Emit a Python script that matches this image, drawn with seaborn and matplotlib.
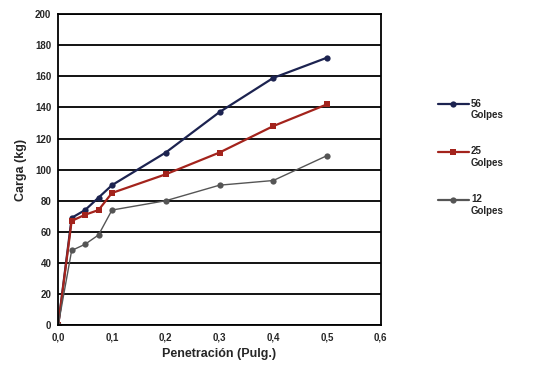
import numpy as np
import pandas as pd
import seaborn as sns
import matplotlib.pyplot as plt
from matplotlib.ticker import FuncFormatter
from matplotlib.lines import Line2D
from matplotlib.legend_handler import HandlerLine2D

# penetration values (inches)
penetracion = [0.0, 0.025, 0.05, 0.075, 0.1, 0.2, 0.3, 0.4, 0.5]

# load (kg) for each compaction energy
carga_56 = [0, 69, 74, 82, 90, 111, 137, 159, 172]
carga_25 = [0, 67, 71, 74, 85, 97, 111, 128, 142]
carga_12 = [0, 48, 52, 58, 74, 80, 90, 93, 109]

series_names = ["56\nGolpes", "25\nGolpes", "12\nGolpes"]
series_colors = ["#1c2350", "#a3231c", "#555555"]
series_markers = ["o", "s", "o"]

df = pd.DataFrame({
    "Penetracion": penetracion * 3,
    "Carga": carga_56 + carga_25 + carga_12,
    "Serie": [series_names[0]] * 9 + [series_names[1]] * 9 + [series_names[2]] * 9,
})


# legend handle raised to the first text line (the number)
class RaisedHandler(HandlerLine2D):
    def create_artists(self, legend, orig_handle, xdescent, ydescent,
                       width, height, fontsize, trans):
        arts = super().create_artists(legend, orig_handle, xdescent, ydescent,
                                      width, height, fontsize, trans)
        for a in arts:
            a.set_ydata(np.asarray(a.get_ydata()) + 0.6 * fontsize)
        return arts


sns.set_style("white")
plt.rcParams["font.family"] = ["Liberation Sans", "DejaVu Sans"]

fig, ax = plt.subplots(figsize=(5.44, 3.72), dpi=100)
fig.subplots_adjust(left=0.107, right=0.70, top=0.962, bottom=0.126)

sns.lineplot(
    data=df, x="Penetracion", y="Carga", hue="Serie", style="Serie",
    palette=dict(zip(series_names, series_colors)),
    markers=dict(zip(series_names, series_markers)),
    dashes=False, markersize=4.5, linewidth=1.6, markeredgewidth=0,
    ax=ax,
)
# thinner line for the 12 golpes series
ax.lines[2].set_linewidth(1.0)

ax.set_xlim(0, 0.6)
ax.set_ylim(0, 200)
ax.set_xticks(np.arange(0, 0.61, 0.1))
ax.set_yticks(np.arange(0, 201, 20))
ax.xaxis.set_major_formatter(FuncFormatter(lambda v, p: f"{v:.1f}".replace(".", ",")))
ax.yaxis.grid(True, color="black", linewidth=1.3)
ax.xaxis.grid(False)
for s in ax.spines.values():
    s.set_color("black")
    s.set_linewidth(1.3)

ax.tick_params(axis="both", labelsize=7, length=0, pad=5)
for lbl in ax.get_xticklabels() + ax.get_yticklabels():
    lbl.set_fontweight("bold")

ax.set_xlabel("Penetración (Pulg.)", fontsize=9, fontweight="bold", labelpad=4)
ax.set_ylabel("Carga (kg)", fontsize=9, fontweight="bold", labelpad=6)

handles, labels = ax.get_legend_handles_labels()
leg = ax.legend(handles, labels, loc="center left", bbox_to_anchor=(1.15, 0.54),
                frameon=False, handlelength=3.2, handletextpad=0.2,
                labelspacing=2.7, prop={"weight": "bold", "size": 7},
                handler_map={Line2D: RaisedHandler()})

fig.savefig("out.png", dpi=100)
